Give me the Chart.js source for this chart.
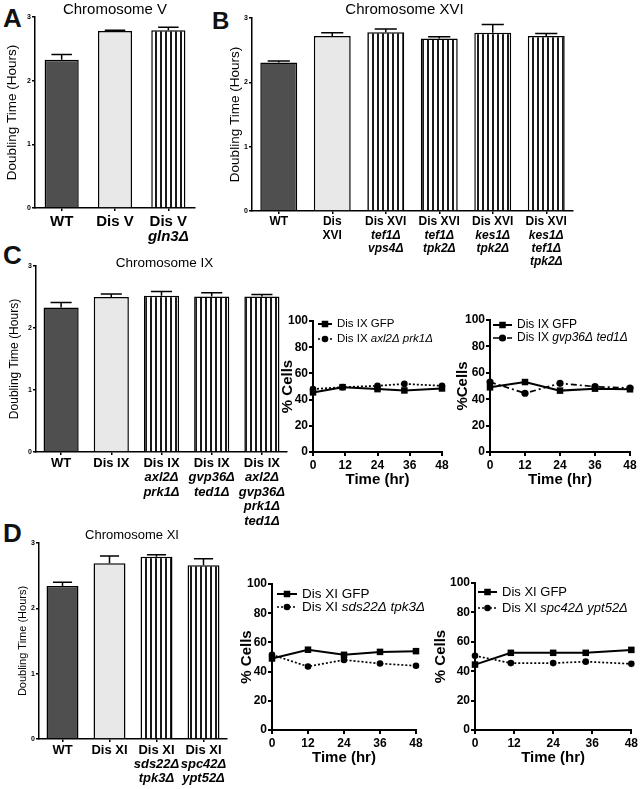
<!DOCTYPE html>
<html>
<head>
<meta charset="utf-8">
<script src="https://cdn.jsdelivr.net/npm/chart.js@4.4.1/dist/chart.umd.min.js"></script>
<style>
  body { margin: 0; background: #fff; width: 640px; height: 789px; position: relative; overflow: hidden; font-family: "Liberation Sans", Arial, sans-serif; }
  .tag { position: absolute; font-weight: bold; font-size: 26px; line-height: 26px; color: #111; }
</style>
</head>
<body>
<div class="tag" style="left:3px;top:5px">A</div>
<div class="tag" style="left:212px;top:9px;font-size:24px;line-height:24px">B</div>
<div class="tag" style="left:3px;top:242px">C</div>
<div class="tag" style="left:3px;top:520px">D</div>
<script>
// ---- data ----
// A: chromosome V
const labelsA = [["WT"], ["Dis V"], ["Dis V", "gln3Δ"]];
const hoursA = [2.33, 2.78, 2.79];
const semA = [0.08, 0.01, 0.05];
const kindA = ["wt", "dis", "mut"];

// B: chromosome XVI
const labelsB = [["WT"], ["Dis", "XVI"], ["Dis XVI", "tef1Δ", "vps4Δ"], ["Dis XVI", "tef1Δ", "tpk2Δ"],
                 ["Dis XVI", "kes1Δ", "tpk2Δ"], ["Dis XVI", "kes1Δ", "tef1Δ", "tpk2Δ"]];
const hoursB = [2.31, 2.72, 2.78, 2.68, 2.77, 2.72];
const semB = [0.02, 0.05, 0.05, 0.03, 0.13, 0.04];
const kindB = ["wt", "dis", "mut", "mut", "mut", "mut"];

// C: chromosome IX
const labelsC = [["WT"], ["Dis IX"], ["Dis IX", "axl2Δ", "prk1Δ"], ["Dis IX", "gvp36Δ", "ted1Δ"],
                 ["Dis IX", "axl2Δ", "gvp36Δ", "prk1Δ", "ted1Δ"]];
const hoursC = [2.33, 2.50, 2.52, 2.51, 2.51];
const semC = [0.08, 0.05, 0.07, 0.06, 0.03];
const kindC = ["wt", "dis", "mut", "mut", "mut"];

// D: chromosome XI
const labelsD = [["WT"], ["Dis XI"], ["Dis XI", "sds22Δ", "tpk3Δ"], ["Dis XI", "spc42Δ", "ypt52Δ"]];
const hoursD = [2.34, 2.69, 2.79, 2.66];
const semD = [0.06, 0.11, 0.03, 0.10];
const kindD = ["wt", "dis", "mut", "mut"];

// time courses (% cells)
const timeC1 = [0, 11, 24, 34, 48];
const gfpC1 = [45.5, 49.5, 48, 47, 48.5];
const mutC1 = [48, 49.5, 50.5, 52, 50.5];
const namesC1 = ["Dis IX GFP", "Dis IX axl2Δ prk1Δ"];

const timeC2 = [0, 12, 24, 36, 48];
const gfpC2 = [49, 53, 46.5, 48, 47.5];
const mutC2 = [53, 44.5, 52, 49.5, 48.5];
const namesC2 = ["Dis IX GFP", "Dis IX gvp36Δ ted1Δ"];

const timeD1 = [0, 12, 24, 36, 48];
const gfpD1 = [49, 55, 51.5, 53.5, 54];
const mutD1 = [51.5, 43.5, 48, 45.5, 44];
const namesD1 = ["Dis XI GFP", "Dis XI sds22Δ tpk3Δ"];

const timeD2 = [0, 11, 24, 34, 48];
const gfpD2 = [44.5, 52.5, 52.5, 52.5, 54.5];
const mutD2 = [50.5, 45.5, 45.5, 46.5, 45];
const namesD2 = ["Dis XI GFP", "Dis XI spc42Δ ypt52Δ"];

const timeTicks = [0, 12, 24, 36, 48];
const cellTicks = [0, 20, 40, 60, 80, 100];
const doublingTicks = [0, 1, 2, 3];

// ---- drawing ----
const FONT = '"Liberation Sans", Arial, sans-serif';
Chart.defaults.font.family = FONT;
Chart.defaults.color = "#000";

const isGene = t => /^[a-z]/.test(t);

// error bars (upper half only, like the prism plots)
const errbars = {
  id: "errbars",
  afterDatasetsDraw(chart, args, o) {
    if (!o.sem) return;
    const ctx = chart.ctx, ys = chart.scales.y;
    const vals = chart.data.datasets[0].data;
    ctx.save();
    ctx.strokeStyle = "#000";
    ctx.lineWidth = 1.5;
    chart.getDatasetMeta(0).data.forEach((bar, i) => {
      const top = ys.getPixelForValue(vals[i] + o.sem[i]);
      const half = bar.width * 0.3;
      ctx.beginPath();
      ctx.moveTo(bar.x, bar.y);
      ctx.lineTo(bar.x, top);
      ctx.moveTo(bar.x - half, top);
      ctx.lineTo(bar.x + half, top);
      ctx.stroke();
    });
    ctx.restore();
  }
};

// titles, multi-line category labels and legends
const deco = {
  id: "deco",
  afterDraw(chart, args, o) {
    const ctx = chart.ctx, a = chart.chartArea;
    ctx.save();
    ctx.fillStyle = "#000";
    ctx.textBaseline = "middle";
    if (o.title) {
      ctx.font = o.title.size + "px " + FONT;
      ctx.textAlign = "center";
      ctx.fillText(o.title.text, (a.left + a.right) / 2 + o.title.dx, a.top + o.title.dy);
    }
    if (o.yTitle) {
      ctx.save();
      ctx.translate(a.left + o.yTitle.dx, (a.top + a.bottom) / 2);
      ctx.rotate(-Math.PI / 2);
      ctx.font = (o.yTitle.bold ? "bold " : "") + o.yTitle.size + "px " + FONT;
      ctx.textAlign = "center";
      ctx.fillText(o.yTitle.text, 0, 0);
      ctx.restore();
    }
    if (o.xTitle) {
      ctx.font = "bold " + o.xTitle.size + "px " + FONT;
      ctx.textAlign = "center";
      ctx.fillText(o.xTitle.text, (a.left + a.right) / 2, a.bottom + o.xTitle.dy);
    }
    if (o.cats) {
      const xs = chart.scales.x;
      ctx.textAlign = "center";
      o.cats.forEach((lines, i) => {
        const x = xs.getPixelForValue(i);
        lines.forEach((t, j) => {
          ctx.font = (isGene(t) ? "italic " : "") + "bold " + o.catSize + "px " + FONT;
          ctx.fillText(t, x, a.bottom + o.catY + j * o.catGap);
        });
      });
    }
    if (o.legend) {
      const L = o.legend;
      ctx.textAlign = "left";
      chart.data.datasets.forEach((ds, k) => {
        const y = a.top + L.y + k * L.gap;
        const x0 = a.left + L.x;
        ctx.strokeStyle = "#000";
        ctx.lineWidth = ds.borderWidth;
        ctx.setLineDash(ds.borderDash || []);
        ctx.beginPath();
        ctx.moveTo(x0, y);
        ctx.lineTo(x0 + L.len, y);
        ctx.stroke();
        ctx.setLineDash([]);
        const mx = x0 + L.len / 2, r = ds.pointRadius;
        if (ds.pointStyle === "rect") {
          const s = r * Math.SQRT1_2;
          ctx.fillRect(mx - s, y - s, 2 * s, 2 * s);
        } else {
          ctx.beginPath();
          ctx.arc(mx, y, r, 0, Math.PI * 2);
          ctx.fill();
        }
        let x = x0 + L.len + 5;
        ds.label.split(" ").forEach(w => {
          ctx.font = (isGene(w) ? "italic " : "") + L.size + "px " + FONT;
          ctx.fillText(w, x, y);
          x += ctx.measureText(w + " ").width;
        });
      });
    }
    ctx.restore();
  }
};
Chart.register(errbars, deco);

function makeCanvas(area, pad) {
  const c = document.createElement("canvas");
  c.width = area.right - area.left + pad.l + pad.r;
  c.height = area.bottom - area.top + pad.t + pad.b;
  c.style.position = "absolute";
  c.style.left = (area.left - pad.l) + "px";
  c.style.top = (area.top - pad.t) + "px";
  document.body.appendChild(c);
  return c;
}

function stripes(ctx) {
  const p = document.createElement("canvas");
  p.width = 5; p.height = 4;
  const g = p.getContext("2d");
  g.fillStyle = "#fff"; g.fillRect(0, 0, 5, 4);
  g.fillStyle = "#1a1a1a"; g.fillRect(0, 0, 2, 4);
  return ctx.createPattern(p, "repeat");
}

function axisOpts(width, tick, fit) {
  return {
    border: { color: "#000", width: width },
    grid: { display: true, drawOnChartArea: false, offset: false, tickLength: tick, color: "#000", lineWidth: width },
    afterFit: fit
  };
}

function barChart(area, pad, bp, labels, values, sem, kinds, opts) {
  const canvas = makeCanvas(area, pad);
  const fills = { wt: "#4f4f4f", dis: "#e8e8e8", mut: stripes(canvas.getContext("2d")) };
  const x = axisOpts(1.5, 3, s => { s.height = pad.b; });
  x.ticks = { display: false };
  const y = axisOpts(1.5, 3, s => { s.width = pad.l; });
  Object.assign(y, {
    min: 0, max: 3,
    afterBuildTicks: s => { s.ticks = doublingTicks.map(v => ({ value: v })); },
    ticks: { padding: 1, font: { size: 7, weight: "bold" } }
  });
  return new Chart(canvas, {
    type: "bar",
    data: {
      labels: labels.map(l => l.join(" ")),
      datasets: [{
        data: values,
        backgroundColor: kinds.map(k => fills[k]),
        borderColor: "#000",
        borderWidth: 1.5,
        barPercentage: bp,
        categoryPercentage: 1
      }]
    },
    options: {
      responsive: false, animation: false, events: [],
      layout: { padding: { top: pad.t, right: pad.r, left: 0, bottom: 0 } },
      plugins: {
        legend: { display: false }, tooltip: { enabled: false },
        errbars: { sem: sem },
        deco: Object.assign({ cats: labels }, opts)
      },
      scales: { x: x, y: y }
    }
  });
}

const solidSquare = { borderWidth: 2, pointStyle: "rect", pointRadius: 4.6 };
const dottedCircle = { borderWidth: 1.7, borderDash: [2, 2], pointStyle: "circle", pointRadius: 3.3 };
const dashDotCircle = { borderWidth: 1.7, borderDash: [6, 3, 2, 3], pointStyle: "circle", pointRadius: 3.6 };

function lineChart(area, pad, times, series, names, styles, opts) {
  const canvas = makeCanvas(area, pad);
  const x = axisOpts(2, 4, s => { s.height = pad.b; });
  Object.assign(x, {
    type: "linear", min: 0, max: 48,
    afterBuildTicks: s => { s.ticks = timeTicks.map(v => ({ value: v })); },
    ticks: { padding: 2, font: { size: 12, weight: "bold" } }
  });
  const y = axisOpts(2, 4, s => { s.width = pad.l; });
  Object.assign(y, {
    min: 0, max: 100,
    afterBuildTicks: s => { s.ticks = cellTicks.map(v => ({ value: v })); },
    ticks: { padding: 1, font: { size: 12, weight: "bold" } }
  });
  return new Chart(canvas, {
    type: "line",
    data: {
      datasets: series.map((vals, k) => Object.assign({
        label: names[k],
        data: vals.map((v, i) => ({ x: times[i], y: v })),
        borderColor: "#000", backgroundColor: "#000", pointBorderWidth: 0,
        tension: 0, fill: false, clip: false
      }, styles[k]))
    },
    options: {
      responsive: false, animation: false, events: [],
      layout: { padding: { top: pad.t, right: pad.r, left: 0, bottom: 0 } },
      plugins: { legend: { display: false }, tooltip: { enabled: false }, deco: opts },
      scales: { x: x, y: y }
    }
  });
}

// bar panels
barChart({ left: 35, top: 17, right: 195, bottom: 208 }, { l: 35, t: 17, r: 5, b: 42 }, 0.64,
  labelsA, hoursA, semA, kindA, {
    title: { text: "Chromosome V", size: 15, dx: 0, dy: -7 },
    yTitle: { text: "Doubling Time (Hours)", size: 13.5, dx: -23 },
    catSize: 15, catY: 14, catGap: 15
  });

barChart({ left: 252, top: 18, right: 573, bottom: 211 }, { l: 50, t: 18, r: 10, b: 62 }, 0.69,
  labelsB, hoursB, semB, kindB, {
    title: { text: "Chromosome XVI", size: 15, dx: -8, dy: -8 },
    yTitle: { text: "Doubling Time (Hours)", size: 13.5, dx: -17 },
    catSize: 12, catY: 11, catGap: 13.3
  });

barChart({ left: 36, top: 266, right: 287, bottom: 452 }, { l: 36, t: 20, r: 8, b: 78 }, 0.7,
  labelsC, hoursC, semC, kindC, {
    title: { text: "Chromosome IX", size: 13.5, dx: 3, dy: -3 },
    yTitle: { text: "Doubling Time (Hours)", size: 12, dx: -21 },
    catSize: 13, catY: 11, catGap: 14.5
  });

barChart({ left: 39, top: 543, right: 227, bottom: 739 }, { l: 39, t: 18, r: 8, b: 50 }, 0.68,
  labelsD, hoursD, semD, kindD, {
    title: { text: "Chromosome XI", size: 13, dx: -1, dy: -8 },
    yTitle: { text: "Doubling Time (Hours)", size: 11, dx: -16 },
    catSize: 13, catY: 11, catGap: 14
  });

// time-course panels
lineChart({ left: 313, top: 321, right: 442, bottom: 452 }, { l: 45, t: 10, r: 14, b: 38 },
  timeC1, [gfpC1, mutC1], namesC1, [solidSquare, dottedCircle], {
    yTitle: { text: "% Cells", size: 15, bold: true, dx: -25 },
    xTitle: { text: "Time (hr)", size: 15, dy: 28 },
    legend: { x: 5, y: 3, gap: 15, len: 14, size: 11.5 }
  });

lineChart({ left: 490, top: 320, right: 630, bottom: 452 }, { l: 45, t: 10, r: 10, b: 38 },
  timeC2, [gfpC2, mutC2], namesC2, [solidSquare, dashDotCircle], {
    yTitle: { text: "%Cells", size: 15, bold: true, dx: -27 },
    xTitle: { text: "Time (hr)", size: 15, dy: 28 },
    legend: { x: 3, y: 5, gap: 13, len: 19, size: 12 }
  });

lineChart({ left: 272, top: 584, right: 416, bottom: 730 }, { l: 45, t: 10, r: 14, b: 40 },
  timeD1, [gfpD1, mutD1], namesD1, [solidSquare, dottedCircle], {
    yTitle: { text: "% Cells", size: 15, bold: true, dx: -25 },
    xTitle: { text: "Time (hr)", size: 15, dy: 28 },
    legend: { x: 5, y: 10, gap: 13, len: 20, size: 13.5 }
  });

lineChart({ left: 475, top: 583, right: 632, bottom: 730 }, { l: 45, t: 10, r: 8, b: 40 },
  timeD2, [gfpD2, mutD2], namesD2, [solidSquare, dottedCircle], {
    yTitle: { text: "% Cells", size: 15, bold: true, dx: -34 },
    xTitle: { text: "Time (hr)", size: 15, dy: 28 },
    legend: { x: 3, y: 9, gap: 16, len: 19, size: 13 }
  });
</script>
</body>
</html>
